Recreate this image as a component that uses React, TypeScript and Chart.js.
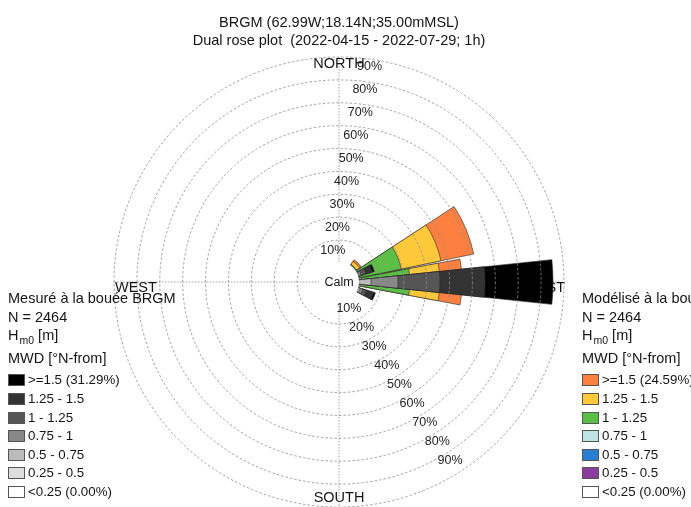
import React, { useEffect, useRef } from 'react';
import { Chart, registerables } from 'chart.js';

Chart.register(...registerables);

// ---------- DATA ----------
const DIRECTIONS = ['N', 'NNE', 'NE', 'ENE', 'E', 'ESE', 'SE', 'SSE', 'S', 'SSW', 'SW', 'WSW', 'W', 'WNW', 'NW', 'NNW'];
const BIN_LABELS = ['<0.25', '0.25 - 0.5', '0.5 - 0.75', '0.75 - 1', '1 - 1.25', '1.25 - 1.5', '>=1.5'];

// Modelled Hm0 frequency (% of time) per direction N..NNW, per height bin
const MOD_LT_025 = [0, 0, 0, 0, 0, 0, 0, 0, 0, 0, 0, 0, 0, 0, 0, 0];
const MOD_025_05 = [0, 0, 0.1, 0.3, 0.2, 0, 0, 0, 0, 0, 0, 0, 0, 0, 0, 0];
const MOD_05_075 = [0, 0, 0.4, 0.3, 0.3, 0, 0, 0, 0, 0, 0, 0, 0, 0, 0, 0];
const MOD_075_1 = [0, 0, 0.2, 0.6, 1.0, 0, 0, 0, 0, 0, 0, 0, 0, 0, 0, 0];
const MOD_1_125 = [0, 0, 0.3, 18.3, 21.2, 0, 0, 0, 0, 0, 0, 0, 0, 0, 0, 0];
const MOD_125_15 = [0, 0, 1.6, 17.7, 13.1, 0, 0, 0, 0, 0, 0, 0, 0, 0, 0, 0];
const MOD_GE_15 = [0, 0, 0.8, 14.6, 9.7, 0, 0, 0, 0, 0, 0, 0, 0, 0, 0, 0];

// Measured Hm0 frequency (% of time) per direction N..NNW, per height bin
const MEAS_LT_025 = [0, 0, 0, 0, 0, 0, 0, 0, 0, 0, 0, 0, 0, 0, 0, 0];
const MEAS_025_05 = [0, 0, 0, 0.3, 0.3, 0.3, 0, 0, 0, 0, 0, 0, 0, 0, 0, 0];
const MEAS_05_075 = [0, 0, 0, 0.5, 5.4, 1.0, 0, 0, 0, 0, 0, 0, 0, 0, 0, 0];
const MEAS_075_1 = [0, 0, 0, 1.0, 11.8, 1.2, 0, 0, 0, 0, 0, 0, 0, 0, 0, 0];
const MEAS_1_125 = [0, 0, 0, 2.2, 18.3, 1.8, 0, 0, 0, 0, 0, 0, 0, 0, 0, 0];
const MEAS_125_15 = [0, 0, 0, 3.0, 19.7, 3.2, 0, 0, 0, 0, 0, 0, 0, 0, 0, 0];
const MEAS_GE_15 = [0, 0, 0, 0.8, 29.7, 0.8, 0, 0, 0, 0, 0, 0, 0, 0, 0, 0];

const MOD_COLORS = ['#ffffff', '#8b3d9e', '#2a7fd3', '#bfe2e6', '#5cbd47', '#fec83b', '#fe8040'];
const MEAS_COLORS = ['#ffffff', '#dddddd', '#bbbbbb', '#888888', '#555555', '#333333', '#000000'];

const RING_TICKS = [10, 20, 30, 40, 50, 60, 70, 80, 90];
const R_MIN = -8.3;
const R_MAX = 90;

const TITLE_LINES = ['BRGM (62.99W;18.14N;35.00mMSL)', 'Dual rose plot  (2022-04-15 - 2022-07-29; 1h)'];

const MEAS_LEGEND = ['>=1.5 (31.29%)', '1.25 - 1.5', '1 - 1.25', '0.75 - 1', '0.5 - 0.75', '0.25 - 0.5', '<0.25 (0.00%)'];
const MOD_LEGEND = ['>=1.5 (24.59%)', '1.25 - 1.5', '1 - 1.25', '0.75 - 1', '0.5 - 0.75', '0.25 - 0.5', '<0.25 (0.00%)'];

const FONT = '"Liberation Sans", Arial, Helvetica, sans-serif';

// ---------- BUILD ----------
function buildDatasets(bins: number[][], colors: string[], sectorDeg: number, orderBase: number, name: string) {
  const gap = (22.5 - sectorDeg) / 2;
  const angles: number[] = [];
  DIRECTIONS.forEach(() => {
    angles.push(gap, sectorDeg, gap);
  });
  const out: any[] = [];
  let cum = DIRECTIONS.map(() => 0);
  bins.forEach((bin, b) => {
    const c = cum.map((v, i) => v + bin[i]);
    cum = c;
    const data: number[] = [];
    c.forEach((v) => data.push(0, v, 0));
    const col = colors[b];
    const isBar = (ctx: any) => ctx.dataIndex % 3 === 1 && data[ctx.dataIndex] > 0;
    out.push({
      label: name + ' ' + BIN_LABELS[b],
      data,
      order: orderBase + b,
      backgroundColor: (ctx: any) => (isBar(ctx) ? col : 'rgba(0,0,0,0)'),
      borderColor: (ctx: any) => (isBar(ctx) ? '#2a2a2a' : 'rgba(0,0,0,0)'),
      borderWidth: (ctx: any) => (isBar(ctx) ? 0.6 : 0),
      angle: (ctx: any) => angles[ctx.dataIndex],
    });
  });
  return out;
}

const decorPlugin = {
  id: 'roseDecor',
  beforeDatasetsDraw(chart: any) {
    const s = chart.scales.r;
    const ctx = chart.ctx;
    const cx = s.xCenter;
    const cy = s.yCenter;
    const R = s.getDistanceFromCenterForValue(R_MAX);
    ctx.save();
    // compass axes
    ctx.strokeStyle = '#8a8a8a';
    ctx.lineWidth = 0.8;
    ctx.setLineDash([1.5, 1.5]);
    ctx.beginPath();
    ctx.moveTo(cx, cy - R);
    ctx.lineTo(cx, cy + R);
    ctx.moveTo(cx - R, cy);
    ctx.lineTo(cx + R, cy);
    ctx.stroke();
    ctx.setLineDash([]);
    // compass labels
    ctx.fillStyle = '#151515';
    ctx.font = `14.5px ${FONT}`;
    ctx.textBaseline = 'middle';
    ctx.textAlign = 'center';
    ctx.fillText('NORTH', cx, cy - R + 7);
    ctx.fillText('SOUTH', cx, cy + R - 9);
    ctx.textAlign = 'left';
    ctx.fillText('WEST', cx - R + 1, cy + 6);
    ctx.textAlign = 'right';
    ctx.fillText('EAST', cx + R + 1, cy + 6);
    // ring labels
    ctx.font = `12.5px ${FONT}`;
    ctx.fillStyle = '#222';
    ctx.textAlign = 'center';
    RING_TICKS.forEach((v) => {
      const d = s.getDistanceFromCenterForValue(v);
      ctx.fillText(v + '%', cx - 14.5 + 0.2 * d, cy - d + 10);
      ctx.fillText(v + '%', cx - 13.2 + 0.552 * d, cy + 0.83 * d - 7.9);
    });
    ctx.restore();
  },
  afterDatasetsDraw(chart: any) {
    const s = chart.scales.r;
    const ctx = chart.ctx;
    const cx = s.xCenter;
    const cy = s.yCenter;
    const r0 = s.getDistanceFromCenterForValue(0);
    ctx.save();
    ctx.fillStyle = '#ffffff';
    ctx.beginPath();
    ctx.arc(cx, cy, r0 + 1, 0, Math.PI * 2);
    ctx.fill();
    ctx.fillStyle = '#151515';
    ctx.font = `12.5px ${FONT}`;
    ctx.textAlign = 'center';
    ctx.textBaseline = 'middle';
    ctx.fillText('Calm', cx, cy + 1);
    ctx.restore();
  },
};

function LegendBlock({ left, title, labels, colors }: { left: number; title: string; labels: string[]; colors: string[] }) {
  const rowStyle = (cy: number): React.CSSProperties => ({
    position: 'absolute',
    left,
    top: cy - 9,
    height: 18,
    lineHeight: '18px',
    whiteSpace: 'nowrap',
    display: 'flex',
    alignItems: 'center',
  });
  const headerFont: React.CSSProperties = { fontSize: '14.5px', color: '#151515' };
  const entryY = [379.5, 398.5, 417.5, 436, 454.5, 473, 491.5];
  const swatchColors = [...colors].reverse();
  return (
    <>
      <div style={{ ...rowStyle(298), ...headerFont }}>{title}</div>
      <div style={{ ...rowStyle(316.5), ...headerFont }}>N = 2464</div>
      <div style={{ ...rowStyle(335), ...headerFont }}>
        <span>H</span>
        <span style={{ fontSize: '10.5px', position: 'relative', top: 5, marginLeft: 1 }}>m0</span>
        <span>&nbsp;[m]</span>
      </div>
      <div style={{ ...rowStyle(358), ...headerFont }}>MWD [°N-from]</div>
      {labels.map((lab, i) => (
        <div key={lab} style={{ ...rowStyle(entryY[i]), fontSize: '13.3px', color: '#151515' }}>
          <span
            style={{
              display: 'inline-block',
              width: 15,
              height: 10,
              border: '1px solid #555',
              background: swatchColors[i],
              marginRight: 3,
            }}
          />
          <span>{lab}</span>
        </div>
      ))}
    </>
  );
}

export default function App() {
  const canvasRef = useRef<HTMLCanvasElement | null>(null);

  useEffect(() => {
    const canvas = canvasRef.current;
    if (!canvas) return;
    const measBins = [MEAS_LT_025, MEAS_025_05, MEAS_05_075, MEAS_075_1, MEAS_1_125, MEAS_125_15, MEAS_GE_15];
    const modBins = [MOD_LT_025, MOD_025_05, MOD_05_075, MOD_075_1, MOD_1_125, MOD_125_15, MOD_GE_15];
    const datasets = [
      ...buildDatasets(measBins, MEAS_COLORS, 12, 0, 'Mesuré'),
      ...buildDatasets(modBins, MOD_COLORS, 21.5, 20, 'Modélisé'),
    ];
    const labels: string[] = [];
    DIRECTIONS.forEach((d) => labels.push('', d, ''));

    const chart = new Chart(canvas, {
      type: 'polarArea',
      data: { labels, datasets },
      options: {
        responsive: false,
        animation: false,
        devicePixelRatio: 1,
        layout: { padding: { left: 114, right: 127, top: 0, bottom: 0 } },
        scales: {
          r: {
            type: 'radialLinear',
            min: R_MIN,
            max: R_MAX,
            startAngle: -11.25,
            ticks: { display: false, stepSize: 10 },
            grid: {
              color: (ctx: any) =>
                ctx.tick && RING_TICKS.includes(Math.round(ctx.tick.value * 1000) / 1000) ? '#8c8c8c' : 'rgba(0,0,0,0)',
              lineWidth: 0.8,
              circular: true,
              z: 1,
            },
            border: { dash: [2.5, 2] },
            angleLines: { display: false },
            pointLabels: { display: false },
            afterBuildTicks: (scale: any) => {
              scale.ticks = RING_TICKS.map((v) => ({ value: v }));
            },
          } as any,
        },
        plugins: {
          legend: { display: false },
          tooltip: { enabled: false },
          title: {
            display: true,
            text: TITLE_LINES,
            color: '#151515',
            font: { family: FONT, size: 14.5, weight: 'normal', lineHeight: '18px' } as any,
            padding: { top: 14, bottom: 7 },
          },
        },
      } as any,
      plugins: [decorPlugin as any],
    });
    return () => chart.destroy();
  }, []);

  return (
    <div
      style={{
        position: 'fixed',
        left: 0,
        top: 0,
        width: 691,
        height: 507,
        overflow: 'hidden',
        background: '#ffffff',
        fontFamily: FONT,
      }}
    >
      <canvas ref={canvasRef} width={691} height={507} style={{ position: 'absolute', left: 0, top: 0 }} />
      <LegendBlock left={8} title="Mesuré à la bouée BRGM" labels={MEAS_LEGEND} colors={MEAS_COLORS} />
      <LegendBlock left={582} title="Modélisé à la bouée BRGM" labels={MOD_LEGEND} colors={MOD_COLORS} />
    </div>
  );
}
